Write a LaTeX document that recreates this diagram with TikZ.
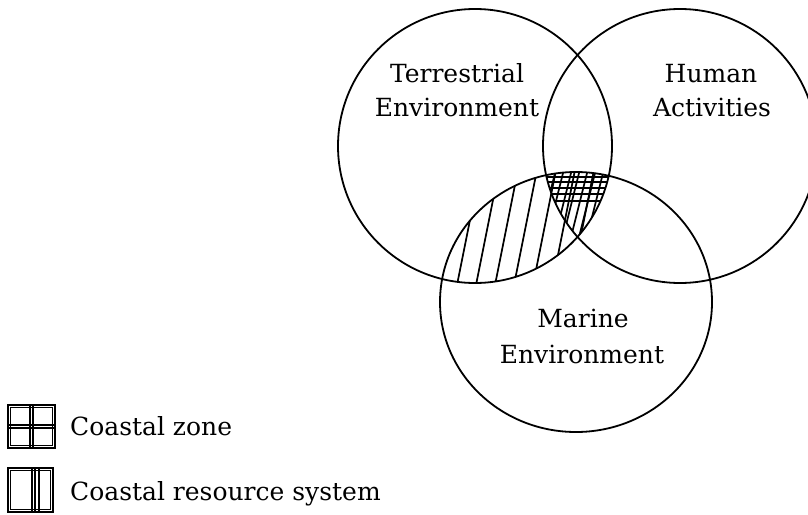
\documentclass[tikz,border=0pt]{standalone}
\usepackage{fontspec}
\setmainfont{DejaVu Serif}
\begin{document}
\begin{tikzpicture}[x=1pt,y=-1pt,
  ring/.style={line width=1.8pt,black},
  hatch/.style={line width=1.7pt,black},
  lbl/.style={inner sep=0pt,anchor=base,font=\fontsize{25}{30}\selectfont},
  legtext/.style={inner sep=0pt,anchor=base west,font=\fontsize{25}{30}\selectfont},
  legbox/.style={line width=1.8pt,black}]
\useasboundingbox (0,0) rectangle (808,514);
\coordinate (T) at (475,146);
\coordinate (H) at (680,146);
\coordinate (M) at (576,302);
% hatching: coastal resource system (T and M)
\begin{scope}
  \clip (T) circle (137);
  \clip (M) ellipse [x radius=136, y radius=130];
  \foreach \k in {0,...,11}
    \draw[hatch] ({435+19*\k},300) -- ({435+19*\k+30},150);
  % coastal zone (T, M and H)
  \clip (H) circle (137);
  \foreach \k in {0,...,10}
    \draw[hatch] ({537+8*\k},245) -- ({537+8*\k+20},165);
  \foreach \yy in {177,182,188,194,201}
    \draw[hatch] (530,\yy) -- (620,\yy);
\end{scope}
% circles
\draw[ring] (T) circle (137);
\draw[ring] (H) circle (137);
\draw[ring] (M) ellipse [x radius=136, y radius=130];
% labels
\node[lbl] (t1) at (457,82) {Terrestrial};
\node[lbl] (t2) at (457,116) {Environment};
\node[lbl] (h1) at (711,82) {Human};
\node[lbl] (h2) at (712,116) {Activities};
\node[lbl] (m1) at (583,327) {Marine};
\node[lbl] (m2) at (582,363) {Environment};
% legend
\draw[legbox] (8,405) rectangle (55,448);
\draw[line width=0.7pt] (10.5,407.5) rectangle (52.5,445.5);
\draw[line width=1.2pt] (30,405) -- (30,448);
\draw[line width=1.2pt] (33,405) -- (33,448);
\draw[line width=1.2pt] (8,425) -- (55,425);
\draw[line width=1.2pt] (8,428) -- (55,428);
\node[legtext] (cz) at (70,435) {Coastal zone};
\draw[legbox] (8,468) rectangle (53,512);
\draw[line width=0.7pt] (10.5,470.5) rectangle (50.5,509.5);
\draw[line width=1.2pt] (32,468) -- (32,512);
\draw[line width=2pt] (34.5,468) -- (34.5,512);
\draw[line width=1.2pt] (39,468) -- (39,512);
\node[legtext] (cr) at (70,500) {Coastal resource system};
\end{tikzpicture}
\end{document}
